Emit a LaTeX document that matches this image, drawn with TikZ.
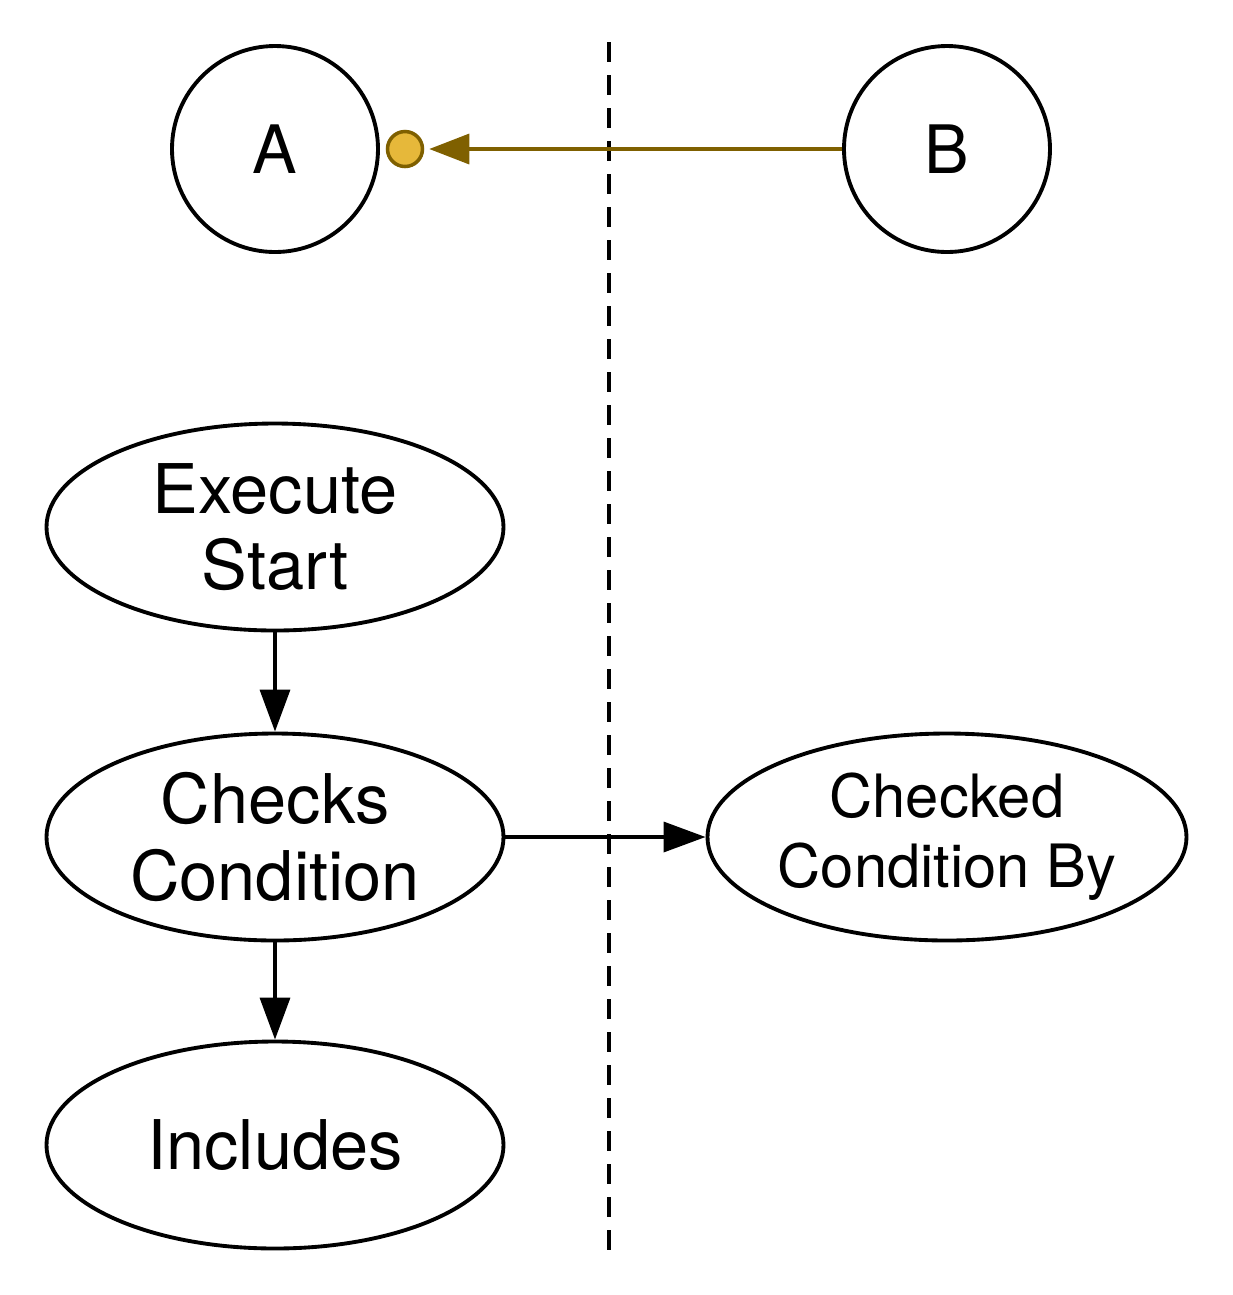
\documentclass[tikz,border=0pt]{standalone}
\usepackage{fontspec}
\setmainfont{TeX Gyre Heros}
\usetikzlibrary{arrows.meta,shapes.geometric}
\definecolor{olivebrown}{HTML}{7F6000}
\definecolor{dotgold}{HTML}{E6B83A}
\tikzset{
  actor/.style={draw, circle, line width=1.1pt, minimum size=2.06cm, inner sep=0pt, font=\fontsize{19}{22}\selectfont},
  usecase/.style={draw, ellipse, line width=1.1pt, minimum width=4.57cm, minimum height=2.07cm, inner sep=0pt, align=center, font=\fontsize{19.5}{21.8}\selectfont},
  link/.style={line width=1pt, -{Triangle[length=0.42cm,width=0.30cm]}},
}
\begin{document}
\begin{tikzpicture}
			%%%%% START %%%%%
			\useasboundingbox (0, 0) rectangle (12.33, -12.95);
			
			\draw[line width=0.95pt, dash pattern=on 0.2cm off 0.13cm] (6.09, -0.42) -- (6.09, -12.5);
			
			\node[actor] (a) at (2.75, -1.49) {A};
			\node[actor] (b) at (9.47, -1.49) {B};
			\node[draw=olivebrown, fill=dotgold, circle, line width=1pt, minimum size=0.35cm, inner sep=0pt] (dot) at (4.05, -1.49) {};
			\draw[line width=0.95pt, olivebrown, -{Triangle[length=0.40cm,width=0.30cm]}, shorten >=0.05cm] (b) -- (dot);
			
			\node[usecase] (exec) at (2.75, -5.27) {Execute\\Start};
			\node[usecase] (checks) at (2.75, -8.37) {Checks\\Condition};
			\node[usecase] (incl) at (2.75, -11.45) {Includes};
			\node[usecase, minimum width=4.74cm, font=\fontsize{17}{20}\selectfont] (checked) at (9.47, -8.37) {Checked\\Condition By};
			
			\draw[link] (exec) -- (checks);
			\draw[link] (checks) -- (incl);
			\draw[link] (checks) -- (checked);
			%%%%% END %%%%%
		\end{tikzpicture}
\end{document}
